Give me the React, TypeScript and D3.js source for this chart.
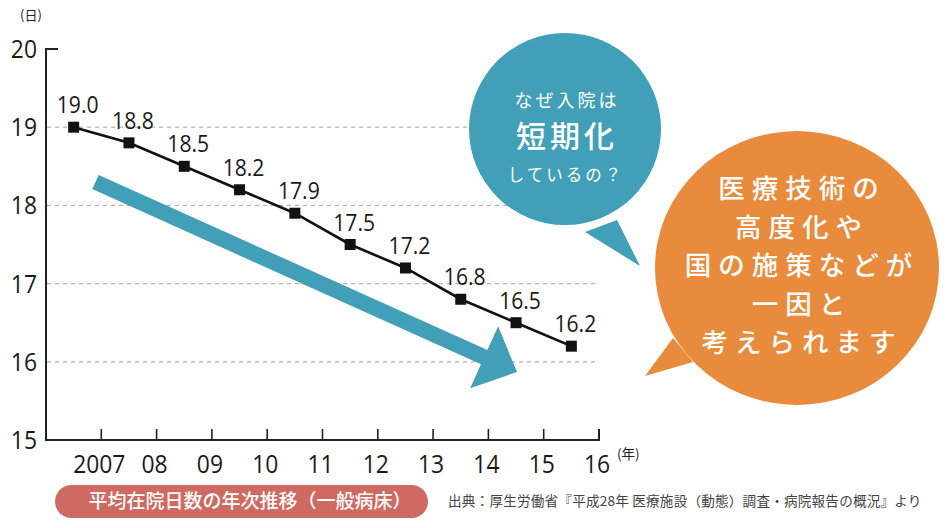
import React from "react";
import * as d3 from "d3";

const years = ["2007", "2008", "2009", "2010", "2011", "2012", "2013", "2014", "2015", "2016"];
const tickLabels = ["2007", "08", "09", "10", "11", "12", "13", "14", "15", "16"];
const values = [19.0, 18.8, 18.5, 18.2, 17.9, 17.5, 17.2, 16.8, 16.5, 16.2];
const yTicks = [15, 16, 17, 18, 19, 20];
const gridValues = [16, 17, 18, 19];

const bubbleQ = ["なぜ入院は", "短期化", "しているの？"];
const bubbleA = ["医療技術の", "高度化や", "国の施策などが", "一因と", "考えられます"];
const caption = "平均在院日数の年次推移（一般病床）";
const source = "出典：厚生労働省『平成28年 医療施設（動態）調査・病院報告の概況』より";

const TEAL = "#419fb7";
const ORANGE = "#e98b3c";
const PILL = "#cf6a62";
const NUM_FONT = "'Open Sans', 'Noto Sans', sans-serif";
const JP_FONT = "'Noto Sans CJK JP', sans-serif";

function Num({ x, y, text, size, anchor = "middle", sx = 0.88 }: any) {
  return (
    <text
      transform={`translate(${x},${y}) scale(${sx},1)`}
      fontFamily={NUM_FONT}
      fontSize={size}
      textAnchor={anchor}
      fill="#1a1a1a"
    >
      {text}
    </text>
  );
}

export default function App() {
  const W = 950, H = 528;
  const x = d3.scaleBand<string>().domain(years).range([46, 599]).paddingInner(0).paddingOuter(0);
  const y = d3.scaleLinear().domain([15, 20]).range([440, 49]);
  const bw = x.bandwidth();
  const px = (i: number) => (x(years[i]) as number) + bw / 2;
  const tickX = (i: number) => (x(years[i]) as number) + bw;

  const line = d3
    .line<number>()
    .x((_, i) => px(i))
    .y((d) => y(d));

  // decorative arrow
  const S = [95.5, 182];
  const T = [517, 372];
  const dx = T[0] - S[0], dy = T[1] - S[1];
  const L = Math.hypot(dx, dy);
  const u = [dx / L, dy / L];
  const n = [-u[1], u[0]];
  const hw = 7.8, headL = 36, headW = 34;
  const B = [T[0] - u[0] * headL, T[1] - u[1] * headL];
  const pt = (p: number[], a: number, b: number) => [p[0] + n[0] * a + u[0] * b, p[1] + n[1] * a + u[1] * b];
  const arrowPts = [
    pt(S, -hw, 0),
    pt(B, -hw, 0),
    pt(B, -headW, 0),
    T,
    pt(B, headW, 0),
    pt(B, hw, 0),
    pt(S, hw, 0),
  ];

  return (
    <svg width={W} height={H} style={{ display: "block", position: "absolute", left: 0, top: 0 }}>
      <rect width={W} height={H} fill="#fff" />
      {/* grid */}
      {gridValues.map((g) => (
        <line key={g} x1={47} x2={599} y1={y(g)} y2={y(g)} stroke="#b0b0b0" strokeWidth={1.2} strokeDasharray="4 4" />
      ))}
      {/* axes */}
      <path d={`M58,${y(20)}H46V${y(15)}H599V${y(15) - 11}`} fill="none" stroke="#222" strokeWidth={2} />
      {years.slice(0, -1).map((yr, i) => (
        <line key={yr} x1={tickX(i)} x2={tickX(i)} y1={y(15)} y2={y(15) - 11} stroke="#222" strokeWidth={1.6} />
      ))}
      {yTicks.map((t) => (
        <Num key={t} x={37} y={y(t) + 9} text={String(t)} size={26} anchor="end" />
      ))}
      {tickLabels.map((t, i) => (
        <Num key={t} x={tickX(i) - 2} y={473} text={t} size={26} />
      ))}
      <text x={20} y={20} fontFamily={JP_FONT} fontSize={13} fill="#222">(日)</text>
      <text x={617} y={459} fontFamily={JP_FONT} fontSize={13.5} fill="#222">(年)</text>

      {/* arrow */}
      <polygon points={arrowPts.map((p) => p.join(",")).join(" ")} fill={TEAL} />

      {/* data line */}
      <path d={line(values) || ""} fill="none" stroke="#111" strokeWidth={2.6} />
      {values.map((v, i) => (
        <rect key={i} x={px(i) - 5.5} y={y(v) - 5.5} width={11} height={11} fill="#111" />
      ))}
      {values.map((v, i) => (
        <Num key={"l" + i} x={px(i) + 4} y={y(v) - 14} text={v.toFixed(1)} size={24} />
      ))}

      {/* teal bubble */}
      <g fill={TEAL}>
        <circle cx={565} cy={129} r={96} />
        <polygon points="585,232 640,266 617,220" />
      </g>
      <g fill="#fff" fontFamily={JP_FONT} textAnchor="middle">
        <text x={567} y={107} fontSize={18} letterSpacing={3}>{bubbleQ[0]}</text>
        <text x={567} y={147} fontSize={30} letterSpacing={4} fontWeight={500}>{bubbleQ[1]}</text>
        <text x={566} y={181} fontSize={16.5} letterSpacing={3}>{bubbleQ[2]}</text>
      </g>

      {/* orange bubble */}
      <g fill={ORANGE}>
        <ellipse cx={797} cy={268} rx={142} ry={137} />
        <polygon points="673,338 645,376 693,362" />
      </g>
      <g fill="#fff" fontFamily={JP_FONT} textAnchor="middle" fontSize={26.5} fontWeight={500} letterSpacing={7}>
        {bubbleA.map((s, i) => (
          <text key={i} x={802} y={198 + i * 38.5}>{s}</text>
        ))}
      </g>

      {/* caption pill */}
      <rect x={55} y={485} width={373} height={33} rx={16.5} fill={PILL} />
      <text x={250} y={508} fill="#fff" fontFamily={JP_FONT} fontSize={19} fontWeight={500} textAnchor="middle">{caption}</text>
      <text x={448} y={506} fill="#444" fontFamily={JP_FONT} fontSize={13.6} letterSpacing={0.2}>{source}</text>
    </svg>
  );
}
